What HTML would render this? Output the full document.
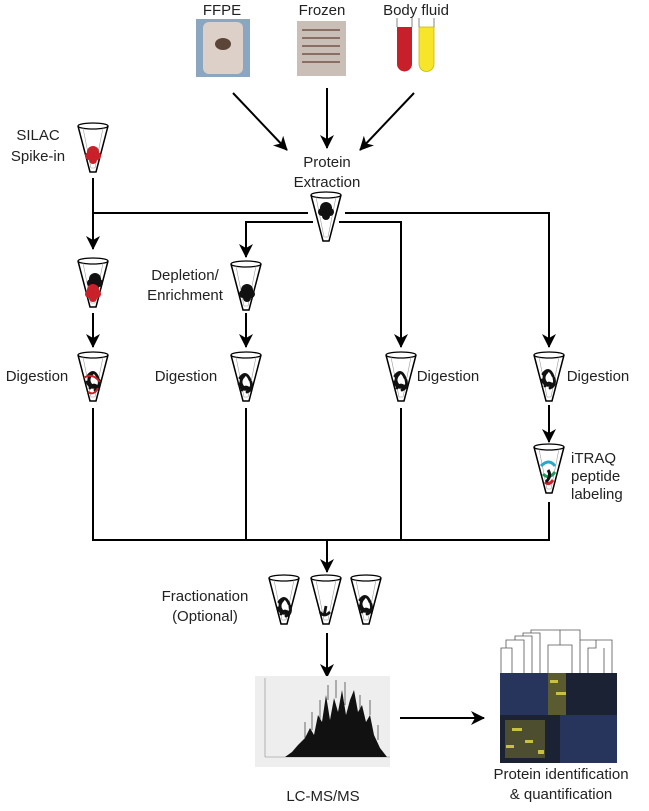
<!DOCTYPE html>
<html><head><style>
html,body{margin:0;padding:0;background:#fff;}
svg{display:block;}
text{font-family:"Liberation Sans",sans-serif;font-size:15px;fill:#222;}
</style></head><body>
<svg width="649" height="811" viewBox="0 0 649 811" xmlns="http://www.w3.org/2000/svg">
<defs>
<marker id="ah" markerWidth="14" markerHeight="14" refX="13" refY="7" orient="auto" markerUnits="userSpaceOnUse" viewBox="0 0 14 14">
<path d="M0,0 L14,7 L0,14 L4,7 z" fill="#000"/></marker>
<g id="tube"><ellipse cx="0" cy="0" rx="15" ry="3" fill="none" stroke="#000" stroke-width="1.3"/><path d="M-15,0 L-3,46 L3,46 L15,0" fill="none" stroke="#000" stroke-width="1.5"/><path d="M-10,2 L-2,42 L2,42 L10,2" fill="none" stroke="#999" stroke-width="0.6"/></g>
<g id="blob"><circle cx="0" cy="0" r="6"/><circle cx="-4" cy="4" r="4"/><circle cx="4" cy="4" r="4"/><circle cx="0" cy="8" r="4"/></g>
<g id="curl"><path d="M-6,-4 q6,-8 10,2 M-7,2 q4,8 10,4 M-2,-6 q-6,6 0,12 M5,0 q2,8 -4,10 M-4,8 q4,-6 8,0" fill="none" stroke-width="2.8" stroke-linecap="round"/></g>
</defs>

<text x="222" y="15" text-anchor="middle">FFPE</text>
<text x="322" y="15" text-anchor="middle">Frozen</text>
<text x="416" y="15" text-anchor="middle">Body fluid</text>
<rect x="196" y="19" width="54" height="58" fill="#8aa6c0"/>
<rect x="203" y="22" width="40" height="52" rx="6" fill="#ddd0c8"/>
<ellipse cx="223" cy="44" rx="8" ry="6" fill="#5a4538"/>
<rect x="297" y="21" width="49" height="55" fill="#c9bfb6"/>
<g stroke="#8a6f66" stroke-width="2"><line x1="302" y1="30" x2="340" y2="30"/><line x1="302" y1="38" x2="340" y2="38"/><line x1="302" y1="46" x2="340" y2="46"/><line x1="302" y1="54" x2="340" y2="54"/><line x1="302" y1="62" x2="340" y2="62"/></g>
<path d="M397,27 L397,64 a7,7 0 0 0 15,0 L412,27 z" fill="#c8202a"/>
<path d="M419,27 L419,64 a7,7 0 0 0 15,0 L434,27 z" fill="#f5e62a" stroke="#c9b800" stroke-width="0.8"/>
<g stroke="#666" stroke-width="0.8"><line x1="397" y1="18" x2="397" y2="27"/><line x1="412" y1="18" x2="412" y2="27"/><line x1="419" y1="18" x2="419" y2="27"/><line x1="434" y1="18" x2="434" y2="27"/></g>

<g stroke="#000" stroke-width="2" fill="none" marker-end="url(#ah)">
<line x1="233" y1="93" x2="287" y2="150"/>
<line x1="327" y1="88" x2="327" y2="148"/>
<line x1="414" y1="93" x2="360" y2="150"/>
</g>
<text x="327" y="167" text-anchor="middle">Protein</text>
<text x="327" y="187" text-anchor="middle">Extraction</text>

<use href="#tube" x="326" y="195"/>
<g fill="#111"><use href="#blob" x="326" y="208"/></g>

<g stroke="#000" stroke-width="2" fill="none">
<line x1="93" y1="213" x2="308" y2="213"/><line x1="345" y1="213" x2="549" y2="213"/>
<line x1="246" y1="222" x2="313" y2="222"/><line x1="339" y1="222" x2="401" y2="222"/>
</g>
<g stroke="#000" stroke-width="2" fill="none" marker-end="url(#ah)">
<line x1="93" y1="178" x2="93" y2="249"/>
<line x1="246" y1="221" x2="246" y2="257"/>
<line x1="401" y1="221" x2="401" y2="347"/>
<line x1="549" y1="212" x2="549" y2="347"/>
<line x1="93" y1="313" x2="93" y2="347"/>
<line x1="246" y1="313" x2="246" y2="347"/>
<line x1="549" y1="405" x2="549" y2="442"/>
<line x1="327" y1="540" x2="327" y2="572"/>
<line x1="327" y1="633" x2="327" y2="677"/>
<line x1="400" y1="718" x2="484" y2="718"/>
</g>
<g stroke="#000" stroke-width="2" fill="none">
<polyline points="93,408 93,540 549,540 549,502"/>
<line x1="246" y1="408" x2="246" y2="540"/>
<line x1="401" y1="408" x2="401" y2="540"/>
</g>

<text x="38" y="140" text-anchor="middle">SILAC</text>
<text x="38" y="161" text-anchor="middle">Spike-in</text>
<use href="#tube" x="93" y="126"/>
<g fill="#c92029"><use href="#blob" x="93" y="152"/></g>

<use href="#tube" x="93" y="261"/>
<g fill="#111"><use href="#blob" x="95" y="279"/></g>
<g fill="#c92029"><use href="#blob" x="93" y="290"/></g>
<text x="185" y="280" text-anchor="middle">Depletion/</text>
<text x="185" y="300" text-anchor="middle">Enrichment</text>
<use href="#tube" x="246" y="264"/>
<g fill="#111"><use href="#blob" x="247" y="290"/></g>

<text x="37" y="381" text-anchor="middle">Digestion</text>
<text x="186" y="381" text-anchor="middle">Digestion</text>
<text x="448" y="381" text-anchor="middle">Digestion</text>
<text x="598" y="381" text-anchor="middle">Digestion</text>
<use href="#tube" x="93" y="355"/><g stroke="#111"><use href="#curl" x="94" y="380"/></g><path d="M84,378 q8,-6 16,4 M88,392 q6,4 10,-4" stroke="#c92029" stroke-width="2" fill="none"/>
<use href="#tube" x="246" y="355"/><g stroke="#111"><use href="#curl" x="246" y="382"/></g>
<use href="#tube" x="401" y="355"/><g stroke="#111"><use href="#curl" x="401" y="380"/></g>
<use href="#tube" x="549" y="355"/><g stroke="#111"><use href="#curl" x="549" y="378"/></g>

<use href="#tube" x="549" y="447"/>
<path d="M541,466 q8,-8 14,0" stroke="#2aa8c8" stroke-width="3" fill="none"/>
<path d="M543,474 q6,6 12,-2" stroke="#1a9a5a" stroke-width="3" fill="none"/>
<path d="M545,482 q4,4 8,-2" stroke="#c92029" stroke-width="3" fill="none"/>
<path d="M548,470 q4,6 -2,12" stroke="#111" stroke-width="3" fill="none"/>
<text x="571" y="463">iTRAQ</text>
<text x="571" y="481">peptide</text>
<text x="571" y="499">labeling</text>

<text x="205" y="601" text-anchor="middle">Fractionation</text>
<text x="205" y="621" text-anchor="middle">(Optional)</text>
<use href="#tube" x="284" y="578"/><g stroke="#111"><use href="#curl" x="285" y="606"/></g>
<use href="#tube" x="326" y="578"/><g stroke="#111"><path d="M320,612 q4,6 10,0 M326,606 l-2,10" stroke-width="2.8" fill="none"/></g>
<use href="#tube" x="366" y="578"/><g stroke="#111"><use href="#curl" x="366" y="604"/></g>

<rect x="255" y="676" width="135" height="91" fill="#eeeeee"/>
<line x1="265" y1="678" x2="265" y2="757" stroke="#888" stroke-width="0.6"/>
<line x1="265" y1="757" x2="390" y2="757" stroke="#888" stroke-width="0.6"/>
<path d="M285,757 L292,752 L298,745 L305,738 L310,728 L314,735 L318,715 L322,722 L326,695 L330,720 L334,698 L338,712 L342,690 L346,715 L350,700 L354,690 L358,712 L362,705 L366,722 L370,715 L374,735 L380,748 L387,757 Z" fill="#111"/>
<g stroke="#333" stroke-width="0.7"><line x1="305" y1="738" x2="305" y2="722"/><line x1="312" y1="730" x2="312" y2="712"/><line x1="320" y1="720" x2="320" y2="700"/><line x1="328" y1="700" x2="328" y2="685"/><line x1="336" y1="698" x2="336" y2="680"/><line x1="345" y1="705" x2="345" y2="682"/><line x1="360" y1="710" x2="360" y2="695"/><line x1="370" y1="715" x2="370" y2="700"/><line x1="378" y1="740" x2="378" y2="725"/></g>
<text x="323" y="801" text-anchor="middle">LC-MS/MS</text>

<g stroke="#555" stroke-width="0.8" fill="none">
<path d="M501,673 V648 H512 V673 M506,648 V640 H524 V673 M515,640 V636 H532 V673 M523,636 V633 H540 V673 M531,633 V630 H580 V673 M560,630 V632 M548,673 V645 H572 V673 M560,645 V632 M580,633 V640 H612 V673 M596,640 V648 H588 V673 M604,648 V673"/>
</g>
<rect x="500" y="673" width="117" height="90" fill="#1a2233"/>
<rect x="500" y="673" width="48" height="42" fill="#2a3a66" opacity="0.8"/>
<rect x="560" y="715" width="57" height="48" fill="#2a3a66" opacity="0.8"/>
<rect x="548" y="673" width="18" height="42" fill="#6a6a30" opacity="0.8"/>
<rect x="505" y="720" width="40" height="38" fill="#5a5a30" opacity="0.8"/>
<g fill="#c8c040"><rect x="550" y="680" width="8" height="3"/><rect x="556" y="692" width="10" height="3"/><rect x="512" y="728" width="10" height="3"/><rect x="525" y="740" width="8" height="3"/><rect x="538" y="750" width="6" height="4"/><rect x="506" y="745" width="8" height="3"/></g>
<text x="561" y="779" text-anchor="middle">Protein identification</text>
<text x="561" y="799" text-anchor="middle">&amp; quantification</text>
</svg>
</body></html>
